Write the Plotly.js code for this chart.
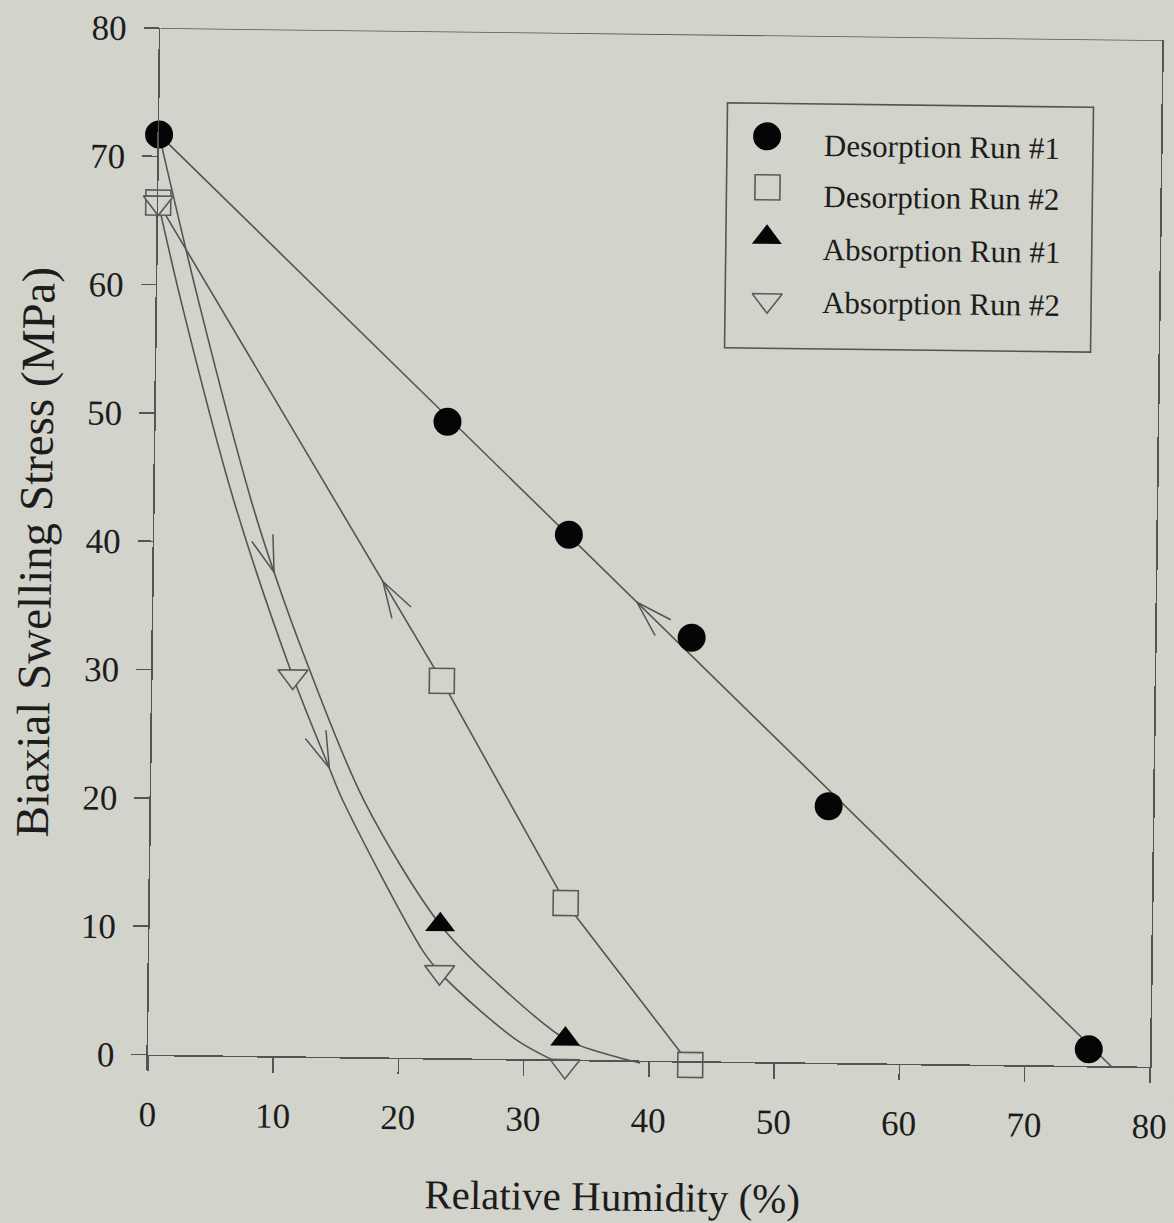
<!DOCTYPE html>
<html>
<head>
<meta charset="utf-8">
<script src="https://cdn.plot.ly/plotly-3.0.1.min.js"></script>
<style>
  html, body { margin: 0; padding: 0; background: #d2d3cb; overflow: hidden; }
  #chart { width: 1174px; height: 1223px; transform-origin: 148px 1055px; transform: rotate(0.69deg); }
</style>
</head>
<body>
<div id="chart"></div>
<script>
// Measured points: relative humidity (%) vs. biaxial swelling stress (MPa)
const desorp1RH = [0, 23.3, 33.1, 43.0, 54.1, 75.1];
const desorp1Stress = [71.7, 49.6, 40.9, 33.0, 20.0, 1.3];
const desorp2RH = [0, 23.1, 33.2, 43.3];
const desorp2Stress = [66.4, 29.4, 12.2, -0.3];
const absorp1RH = [23.2, 33.3];
const absorp1Stress = [10.4, 1.6];
const absorp2RH = [0, 11.2, 23.2, 33.3];
const absorp2Stress = [66.4, 29.6, 6.7, -0.5];

// Additional points along the drawn trend curves
const desorp1LineRH = [0, 77.0];
const desorp1LineStress = [71.7, -0.1];
const absorp1CurveRH = [0, 3.3, 7.7, 9.6, 12.3, 17.0, 27.8, 36.1, 39.3];
const absorp1CurveStress = [71.7, 58.8, 43.3, 37.7, 30.7, 20.0, 5.9, 0.6, -0.2];
const absorp2CurveRH = [1.9, 6.3, 14.2, 15.3, 21.8, 26.4, 29.7];
const absorp2CurveStress = [58.8, 43.3, 22.5, 20.0, 8.4, 3.8, 1.3];

const seriesNames = ['Desorption Run #1', 'Desorption Run #2', 'Absorption Run #1', 'Absorption Run #2'];
const xTickVals = [0, 10, 20, 30, 40, 50, 60, 70, 80];
const yTickVals = [0, 10, 20, 30, 40, 50, 60, 70, 80];

// ---- styling ----
const BG = '#d2d3cb';
const INK = '#1c1c1c';
const LINE = '#545454';
const FONT = 'Liberation Serif, Times New Roman, serif';
const W = 1174, H = 1223;
const Y_MIN = -1.2;                 // a little room below zero for points sitting on the axis
const pxX = 1002 / 80, pxY = 1027 / 80;
const plotW = 80 * pxX, plotH = (80 - Y_MIN) * pxY;
const M = { l: 148, r: W - 148 - plotW, t: 28, b: H - 28 - plotH };
const paperX = px => (px - M.l) / plotW;
const paperY = py => (M.t + plotH - py) / plotH;

const markerStyles = [
  { symbol: 'circle', size: 28, color: '#050505', line: { width: 0 } },
  { symbol: 'square', size: 25, color: BG, line: { color: '#5a5a5a', width: 1.6 } },
  { symbol: 'triangle-up', size: 26, color: '#050505', line: { width: 0 } },
  { symbol: 'triangle-down', size: 26, color: BG, line: { color: '#5a5a5a', width: 1.6 } }
];

function mergeSorted(xa, ya, xb, yb) {
  const pts = xa.map((x, i) => [x, ya[i]]).concat(xb.map((x, i) => [x, yb[i]]));
  pts.sort((p, q) => p[0] - q[0]);
  return { x: pts.map(p => p[0]), y: pts.map(p => p[1]) };
}

const curves = {
  des1: { x: desorp1LineRH, y: desorp1LineStress, shape: 'linear' },
  des2: { x: desorp2RH, y: desorp2Stress, shape: 'linear' },
  abs1: Object.assign(mergeSorted(absorp1RH, absorp1Stress, absorp1CurveRH, absorp1CurveStress), { shape: 'spline' }),
  abs2: Object.assign(mergeSorted(absorp2RH, absorp2Stress, absorp2CurveRH, absorp2CurveStress), { shape: 'spline' })
};

function valueAt(c, x) {
  for (let i = 0; i < c.x.length - 1; i++) {
    if (x >= c.x[i] && x <= c.x[i + 1]) {
      const t = (x - c.x[i]) / (c.x[i + 1] - c.x[i]);
      return c.y[i] + t * (c.y[i + 1] - c.y[i]);
    }
  }
  return c.y[c.y.length - 1];
}

const traces = [];
['des1', 'des2', 'abs1', 'abs2'].forEach(k => {
  const c = curves[k];
  traces.push({
    x: c.x, y: c.y, mode: 'lines', type: 'scatter', showlegend: false, hoverinfo: 'skip',
    line: { color: LINE, width: 1.6, shape: c.shape, smoothing: 0.9 }
  });
});

// direction arrows along the curves (dir: +1 toward higher RH, -1 toward lower RH)
const arrowMarks = [
  { curve: 'des1', x: 38.6, dir: -1 },
  { curve: 'des2', x: 18.3, dir: -1 },
  { curve: 'abs1', x: 9.6, dir: 1 },
  { curve: 'abs2', x: 14.2, dir: 1 }
];
const barbLen = 38, barbAngle = 17 * Math.PI / 180;
arrowMarks.forEach(a => {
  const c = curves[a.curve];
  const y0 = valueAt(c, a.x);
  const h = 0.6;
  const dy = (valueAt(c, a.x + h) - valueAt(c, a.x - h)) * pxY;
  const dx = 2 * h * pxX;
  const n = Math.hypot(dx, dy);
  const bx = -a.dir * dx / n, by = -a.dir * dy / n; // back along the curve
  const ex = [], ey = [];
  [-1, 1].forEach(s => {
    const ang = s * barbAngle;
    const rx = bx * Math.cos(ang) - by * Math.sin(ang);
    const ry = bx * Math.sin(ang) + by * Math.cos(ang);
    ex.push(a.x + rx * barbLen / pxX);
    ey.push(y0 + ry * barbLen / pxY);
  });
  traces.push({
    x: [ex[0], a.x, ex[1]], y: [ey[0], y0, ey[1]], mode: 'lines', type: 'scatter',
    showlegend: false, hoverinfo: 'skip', line: { color: LINE, width: 1.5 }
  });
});

const pointSets = [
  [desorp1RH, desorp1Stress],
  [desorp2RH, desorp2Stress],
  [absorp1RH, absorp1Stress],
  [absorp2RH, absorp2Stress]
];
pointSets.forEach((p, i) => {
  traces.push({
    x: p[0], y: p[1], mode: 'markers', type: 'scatter', name: seriesNames[i],
    showlegend: false, cliponaxis: false, marker: markerStyles[i]
  });
});

// Legend laid out on an overlay axis pair measured in page pixels
const legendBox = { x0: 716, x1: 1082, y0: 96, y1: 341 };
const legendSymbolX = [756, 757, 757, 758];
const legendSymbolY = [129, 180, 230, 293];
const legendTextX = 811;
const legendTextY = [138, 189, 242, 295];
seriesNames.forEach((name, i) => {
  traces.push({
    x: [legendSymbolX[i]], y: [legendSymbolY[i]], xaxis: 'x2', yaxis: 'y2', mode: 'markers', type: 'scatter',
    showlegend: false, hoverinfo: 'skip', cliponaxis: false, marker: markerStyles[i]
  });
});

const annotations = seriesNames.map((name, i) => ({
  xref: 'x2', yref: 'y2', x: legendTextX, y: legendTextY[i], text: name, showarrow: false,
  xanchor: 'left', yanchor: 'middle', font: { family: FONT, size: 31, color: INK }
}));
annotations.push({
  xref: 'paper', yref: 'paper', x: paperX(614), y: paperY(1191), text: 'Relative Humidity (%)', showarrow: false,
  xanchor: 'center', yanchor: 'middle', font: { family: FONT, size: 41, color: INK }
});
annotations.push({
  xref: 'paper', yref: 'paper', x: paperX(29), y: paperY(554), text: 'Biaxial Swelling Stress (MPa)', showarrow: false,
  textangle: -90, xanchor: 'center', yanchor: 'middle', font: { family: FONT, size: 47, color: INK }
});

const axisCommon = {
  showgrid: false, zeroline: false, showline: true,
  linecolor: LINE, linewidth: 1.6, ticks: 'outside', ticklen: 15, tickwidth: 1.6, tickcolor: LINE,
  tickfont: { family: FONT, size: 35, color: INK }, fixedrange: true
};

const layout = {
  width: W, height: H, margin: M,
  paper_bgcolor: BG, plot_bgcolor: BG,
  showlegend: false,
  xaxis: Object.assign({}, axisCommon, {
    range: [0, 80], tickvals: xTickVals, ticklabelstandoff: 13,
    anchor: 'free', position: (0 - Y_MIN) / (80 - Y_MIN), mirror: false
  }),
  yaxis: Object.assign({}, axisCommon, {
    range: [Y_MIN, 80], tickvals: yTickVals, ticklabelstandoff: 10, mirror: true
  }),
  xaxis2: { domain: [0, 1], range: [M.l, M.l + plotW], overlaying: 'x', anchor: 'y2', visible: false, fixedrange: true },
  yaxis2: { domain: [0, 1], range: [M.t + plotH, M.t], overlaying: 'y', anchor: 'x2', visible: false, fixedrange: true },
  shapes: [
    { // top frame edge
      type: 'line', xref: 'x', yref: 'y', x0: 0, x1: 80, y0: 80, y1: 80,
      line: { color: LINE, width: 1.6 }
    },
    {
      type: 'rect', xref: 'x2', yref: 'y2', x0: legendBox.x0, x1: legendBox.x1, y0: legendBox.y0, y1: legendBox.y1,
      line: { color: LINE, width: 1.6 }, fillcolor: 'rgba(0,0,0,0)', layer: 'below'
    }
  ],
  annotations: annotations
};

Plotly.newPlot('chart', traces, layout, { displayModeBar: false, staticPlot: true });
</script>
</body>
</html>
